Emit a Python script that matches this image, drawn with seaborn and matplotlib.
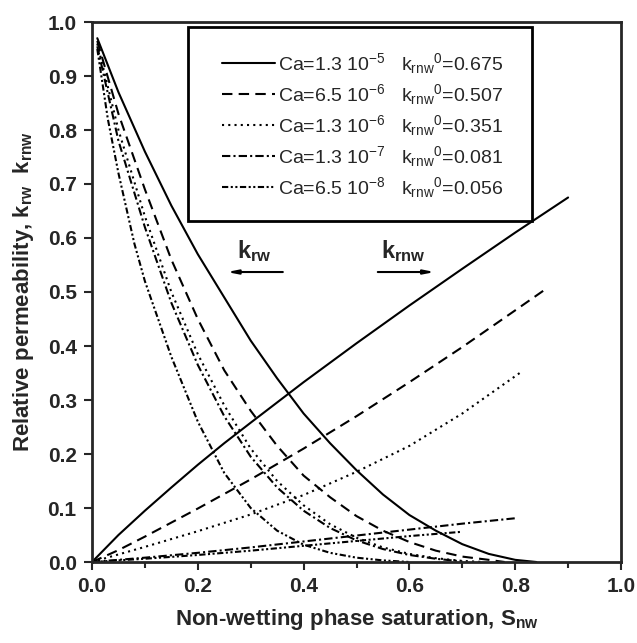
import matplotlib
matplotlib.use("Agg")
import matplotlib.pyplot as plt
import pandas as pd
import seaborn as sns
from matplotlib.lines import Line2D
from matplotlib.patches import Rectangle
from matplotlib.ticker import MultipleLocator

# capillary numbers and end-point kmw values (legend text)
ca_labels = ["1.3 10$^{-5}$", "6.5 10$^{-6}$", "1.3 10$^{-6}$", "1.3 10$^{-7}$", "6.5 10$^{-8}$"]
kmw_end = ["0.675", "0.507", "0.351", "0.081", "0.056"]

# wetting phase relative permeability curves
krw_s = [
    [0.01, 0.05, 0.10, 0.15, 0.20, 0.25, 0.30, 0.35, 0.40, 0.45, 0.50, 0.55, 0.60, 0.65, 0.70, 0.75, 0.80, 0.84],
    [0.01, 0.05, 0.10, 0.15, 0.20, 0.25, 0.30, 0.35, 0.40, 0.45, 0.50, 0.55, 0.60, 0.65, 0.70, 0.75, 0.78],
    [0.01, 0.05, 0.10, 0.15, 0.20, 0.25, 0.30, 0.35, 0.40, 0.45, 0.50, 0.55, 0.60, 0.65, 0.70, 0.74],
    [0.01, 0.05, 0.10, 0.15, 0.20, 0.25, 0.30, 0.35, 0.40, 0.45, 0.50, 0.55, 0.60, 0.65, 0.70],
    [0.01, 0.03, 0.05, 0.08, 0.10, 0.15, 0.20, 0.25, 0.30, 0.35, 0.40, 0.45, 0.50, 0.55, 0.60],
]
krw_k = [
    [0.97, 0.87, 0.76, 0.66, 0.57, 0.49, 0.41, 0.34, 0.275, 0.22, 0.17, 0.125, 0.087, 0.058, 0.033, 0.015, 0.004, 0.0],
    [0.965, 0.83, 0.69, 0.56, 0.45, 0.355, 0.28, 0.215, 0.16, 0.12, 0.085, 0.058, 0.037, 0.021, 0.010, 0.004, 0.0],
    [0.96, 0.80, 0.64, 0.50, 0.385, 0.29, 0.21, 0.15, 0.105, 0.07, 0.045, 0.027, 0.015, 0.007, 0.002, 0.0],
    [0.955, 0.78, 0.62, 0.48, 0.365, 0.27, 0.195, 0.138, 0.095, 0.063, 0.04, 0.024, 0.013, 0.006, 0.001],
    [0.95, 0.82, 0.72, 0.59, 0.52, 0.38, 0.26, 0.165, 0.10, 0.058, 0.032, 0.017, 0.008, 0.003, 0.0],
]

# non-wetting phase relative permeability curves
kmw_s = [
    [0.0, 0.05, 0.10, 0.15, 0.20, 0.25, 0.30, 0.40, 0.50, 0.60, 0.70, 0.80, 0.90],
    [0.0, 0.05, 0.10, 0.20, 0.30, 0.40, 0.50, 0.60, 0.70, 0.80, 0.86],
    [0.0, 0.10, 0.20, 0.30, 0.40, 0.50, 0.60, 0.70, 0.81],
    [0.0, 0.10, 0.20, 0.30, 0.40, 0.50, 0.60, 0.70, 0.80],
    [0.0, 0.10, 0.20, 0.30, 0.40, 0.50, 0.60, 0.70],
]
kmw_k = [
    [0.0, 0.05, 0.095, 0.138, 0.18, 0.22, 0.258, 0.333, 0.405, 0.475, 0.543, 0.61, 0.675],
    [0.0, 0.022, 0.047, 0.099, 0.153, 0.21, 0.27, 0.333, 0.398, 0.466, 0.507],
    [0.0, 0.028, 0.057, 0.088, 0.124, 0.167, 0.215, 0.275, 0.351],
    [0.0, 0.008, 0.017, 0.027, 0.038, 0.049, 0.06, 0.071, 0.081],
    [0.0, 0.006, 0.013, 0.021, 0.030, 0.039, 0.048, 0.056],
]

dash_styles = ["-", (0, (5, 3)), (0, (1, 2)), (0, (4, 1.5, 1, 1.5)), (0, (3, 1.2, 1, 1.2, 1, 1.2))]

sns.set_style("ticks")
plt.rcParams['font.family'] = ['Liberation Sans', 'DejaVu Sans']
plt.rcParams['mathtext.fontset'] = 'custom'
plt.rcParams['mathtext.rm'] = 'Liberation Sans'
plt.rcParams['mathtext.it'] = 'Liberation Sans:italic'
plt.rcParams['mathtext.bf'] = 'Liberation Sans:bold'

fig = plt.figure(figsize=(6.37, 6.43), dpi=100)
ax = fig.add_axes([92 / 637, 1 - 562 / 643, 529 / 637, 540 / 643])

for i in range(len(ca_labels)):
    df_r = pd.DataFrame({'S': krw_s[i], 'k': krw_k[i]})
    df_m = pd.DataFrame({'S': kmw_s[i], 'k': kmw_k[i]})
    for df in (df_r, df_m):
        sns.lineplot(data=df, x='S', y='k', ax=ax, color='black', lw=1.5,
                     linestyle=dash_styles[i], estimator=None, sort=False, legend=False)

# legend frame drawn separately so the padding matches the original
ax.add_patch(Rectangle((0.181, 0.631), 0.651, 0.36, transform=ax.transAxes,
                       facecolor='white', edgecolor='black', lw=2, zorder=4))
handles = [Line2D([0], [0], color='black', lw=1.5, linestyle=dash_styles[i]) for i in range(len(ca_labels))]
labels = [f"Ca={ca_labels[i]}   k$_{{\\mathrm{{rnw}}}}$$^{{0}}$={kmw_end[i]}" for i in range(len(ca_labels))]
leg = ax.legend(handles, labels, loc='upper left', bbox_to_anchor=(0.246, 0.946), fontsize=14,
                frameon=False, handlelength=2.7, handletextpad=0.15, borderpad=0,
                labelspacing=0.31, borderaxespad=0)
leg.set_zorder(5)

# direction arrows
ax.annotate('', xy=(0.25, 0.537), xytext=(0.366, 0.537),
            arrowprops=dict(arrowstyle='-|>,head_length=0.6,head_width=0.12', color='black', lw=1.5))
ax.annotate('', xy=(0.653, 0.537), xytext=(0.535, 0.537),
            arrowprops=dict(arrowstyle='-|>,head_length=0.6,head_width=0.12', color='black', lw=1.5))
ax.text(0.306, 0.575, r'k$_{\mathbf{rw}}$', fontsize=17, fontweight='bold', ha='center', va='center')
ax.text(0.588, 0.575, r'k$_{\mathbf{rnw}}$', fontsize=17, fontweight='bold', ha='center', va='center')

ax.set_xlim(0, 1)
ax.set_ylim(0, 1)
ax.xaxis.set_major_locator(MultipleLocator(0.2))
ax.xaxis.set_minor_locator(MultipleLocator(0.1))
ax.yaxis.set_major_locator(MultipleLocator(0.1))
ax.xaxis.set_major_formatter(plt.FormatStrFormatter('%.1f'))
ax.yaxis.set_major_formatter(plt.FormatStrFormatter('%.1f'))
ax.tick_params(which='major', direction='out', length=6, width=1.5, labelsize=15, pad=5)
ax.tick_params(which='minor', direction='out', length=4, width=1.5)
for lab in ax.get_xticklabels() + ax.get_yticklabels():
    lab.set_fontweight('bold')
for sp in ax.spines.values():
    sp.set_linewidth(2)
    sp.set_visible(True)

ax.set_xlabel(r'Non-wetting phase saturation, S$_{\mathbf{nw}}$', fontsize=16, fontweight='bold', labelpad=8)
ax.set_ylabel(r'Relative permeability, k$_{\mathbf{rw}}$  k$_{\mathbf{rnw}}$', fontsize=16, fontweight='bold', labelpad=8)

fig.savefig('out.png', dpi=100)
